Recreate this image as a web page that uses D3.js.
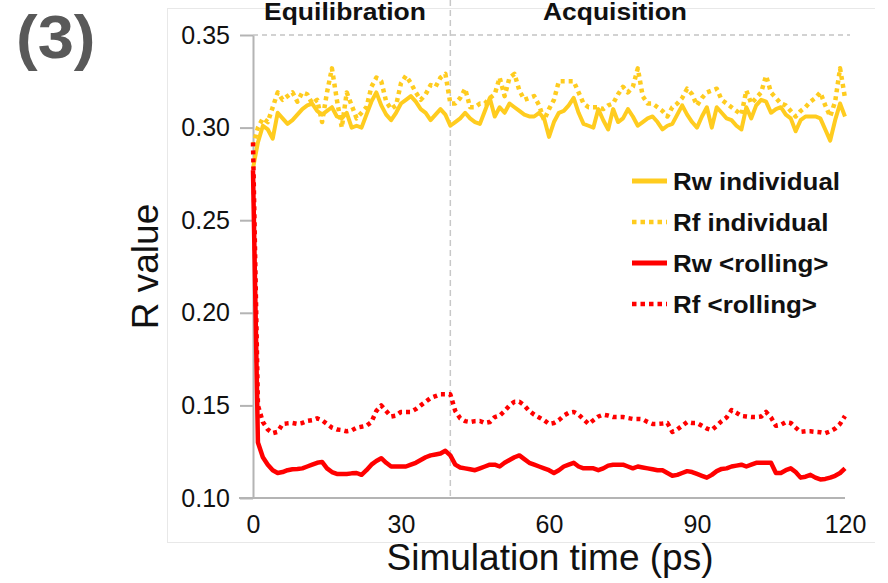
<!DOCTYPE html>
<html>
<head>
<meta charset="utf-8">
<script src="https://cdn.jsdelivr.net/npm/d3@7"></script>
<style>
  html, body { margin: 0; padding: 0; background: #fff; }
  svg { display: block; }
  text { font-family: "Liberation Sans", Arial, sans-serif; }
</style>
</head>
<body>
<script>
// ---------- data ----------
const times = d3.range(0, 121);            // simulation time, ps (1 ps step)
const phaseBoundary = 40;                  // ps
const phaseLabels = ["Equilibration", "Acquisition"];
const yTicks = [0.10, 0.15, 0.20, 0.25, 0.30, 0.35];
const xTicks = [0, 30, 60, 90, 120];
const seriesNames = ["Rw individual", "Rf individual", "Rw <rolling>", "Rf <rolling>"];

const rwIndividual = [
  0.278,0.292,0.301,0.299,0.294,0.308,0.305,0.302,0.304,0.307,
  0.310,0.312,0.313,0.309,0.307,0.309,0.311,0.306,0.305,0.308,
  0.300,0.301,0.300,0.307,0.314,0.319,0.312,0.307,0.304,0.308,
  0.313,0.315,0.317,0.314,0.310,0.308,0.304,0.307,0.310,0.307,
  0.301,0.303,0.305,0.308,0.305,0.303,0.302,0.309,0.316,0.306,
  0.311,0.308,0.313,0.311,0.309,0.307,0.306,0.306,0.308,0.305,
  0.295,0.303,0.308,0.309,0.312,0.316,0.308,0.302,0.301,0.300,
  0.310,0.304,0.299,0.310,0.303,0.305,0.310,0.306,0.301,0.303,
  0.305,0.306,0.303,0.299,0.301,0.302,0.307,0.312,0.307,0.303,
  0.300,0.306,0.311,0.300,0.311,0.308,0.305,0.304,0.301,0.299,
  0.311,0.305,0.312,0.315,0.314,0.308,0.310,0.311,0.307,0.305,
  0.298,0.304,0.306,0.306,0.306,0.305,0.299,0.293,0.304,0.313,
  0.306
];
const rfIndividual = [
  0.290,0.300,0.305,0.303,0.311,0.319,0.315,0.317,0.319,0.314,
  0.319,0.318,0.313,0.315,0.303,0.319,0.332,0.315,0.300,0.319,
  0.312,0.305,0.308,0.311,0.322,0.327,0.325,0.314,0.310,0.312,
  0.324,0.328,0.324,0.319,0.315,0.318,0.323,0.322,0.327,0.329,
  0.313,0.313,0.316,0.321,0.311,0.311,0.313,0.313,0.316,0.318,
  0.327,0.317,0.327,0.329,0.320,0.315,0.316,0.317,0.312,0.304,
  0.310,0.315,0.325,0.325,0.325,0.325,0.319,0.313,0.311,0.311,
  0.311,0.310,0.312,0.313,0.318,0.322,0.319,0.322,0.332,0.317,
  0.313,0.313,0.311,0.309,0.306,0.311,0.313,0.316,0.321,0.318,
  0.312,0.316,0.319,0.320,0.321,0.315,0.313,0.311,0.309,0.307,
  0.320,0.313,0.316,0.319,0.328,0.319,0.316,0.313,0.312,0.309,
  0.306,0.309,0.311,0.314,0.316,0.319,0.312,0.306,0.314,0.332,
  0.316
];
const rwRolling = [
  0.277,0.130,0.122,0.118,0.115,0.1135,0.114,0.115,0.1155,0.1157,
  0.116,0.117,0.118,0.119,0.1195,0.116,0.114,0.113,0.113,0.113,
  0.1133,0.1135,0.1125,0.115,0.118,0.120,0.1215,0.119,0.117,0.117,
  0.117,0.117,0.118,0.119,0.1205,0.122,0.123,0.1235,0.124,0.1255,
  0.123,0.118,0.1165,0.116,0.1155,0.115,0.116,0.117,0.118,0.118,
  0.117,0.119,0.1205,0.122,0.123,0.121,0.119,0.118,0.117,0.116,
  0.115,0.1135,0.115,0.117,0.118,0.119,0.117,0.116,0.116,0.116,
  0.115,0.116,0.1175,0.118,0.118,0.118,0.117,0.116,0.117,0.1165,
  0.116,0.1155,0.115,0.115,0.1135,0.112,0.1125,0.1135,0.1145,0.114,
  0.113,0.112,0.111,0.1125,0.1145,0.1157,0.116,0.117,0.1175,0.118,
  0.117,0.118,0.119,0.119,0.119,0.119,0.1135,0.1135,0.115,0.116,
  0.114,0.111,0.1115,0.1125,0.111,0.110,0.1103,0.111,0.112,0.1135,
  0.116
];
const rfRolling = [
  0.292,0.150,0.141,0.137,0.135,0.1357,0.140,0.1403,0.1405,0.140,
  0.1405,0.1416,0.142,0.143,0.142,0.140,0.138,0.137,0.1367,0.136,
  0.1365,0.138,0.1385,0.139,0.141,0.147,0.150,0.147,0.144,0.1445,
  0.1465,0.1465,0.1465,0.148,0.150,0.152,0.154,0.155,0.156,0.156,
  0.156,0.147,0.143,0.1415,0.141,0.1415,0.1416,0.1405,0.141,0.1437,
  0.1445,0.147,0.150,0.152,0.152,0.150,0.147,0.145,0.1435,0.142,
  0.140,0.1405,0.142,0.1445,0.146,0.1465,0.145,0.1425,0.140,0.142,
  0.144,0.145,0.1445,0.1437,0.1437,0.1437,0.1432,0.1427,0.1427,0.1425,
  0.141,0.140,0.140,0.1402,0.1405,0.1357,0.137,0.139,0.141,0.1405,
  0.1405,0.139,0.1375,0.1367,0.139,0.1415,0.1435,0.1475,0.146,0.1443,
  0.144,0.1437,0.1437,0.144,0.1465,0.1435,0.139,0.1395,0.141,0.1405,
  0.138,0.1357,0.136,0.136,0.1357,0.1355,0.135,0.136,0.1375,0.140,
  0.1443
];

// ---------- layout ----------
const W = 888, H = 583;
const svg = d3.select("body").append("svg").attr("width", W).attr("height", H);

const x = d3.scaleLinear().domain([0, 120]).range([253, 845]);
const y = d3.scaleLinear().domain([0.10, 0.35]).range([498, 35]);

const axisGrey = "#b4b4b4";
const yellow = "#FFCC1F";
const red = "#FF0000";

// faint frame of the embedded panel
svg.append("line").attr("x1", 167).attr("x2", 875).attr("y1", 8.5).attr("y2", 8.5)
  .attr("stroke", "#e8e8e8").attr("stroke-width", 1);
svg.append("line").attr("x1", 167.5).attr("x2", 167.5).attr("y1", 8).attr("y2", 542)
  .attr("stroke", "#e8e8e8").attr("stroke-width", 1);
svg.append("line").attr("x1", 167).attr("x2", 875).attr("y1", 542.5).attr("y2", 542.5)
  .attr("stroke", "#e8e8e8").attr("stroke-width", 1);

// panel label
svg.append("text").attr("transform", "translate(16,58) scale(1.05,1)")
  .style("font-family", "'Liberation Sans', Arial, sans-serif")
  .style("font-weight", "bold").style("font-size", "62px").attr("fill", "#595959")
  .text("(3)");

// top dashed reference line at 0.35
svg.append("line").attr("x1", x(0)).attr("x2", 850)
  .attr("y1", y(0.35)).attr("y2", y(0.35))
  .attr("stroke", "#c4c4c4").attr("stroke-width", 1.5).attr("stroke-dasharray", "5,4");

// phase boundary
svg.append("line").attr("x1", x(phaseBoundary)).attr("x2", x(phaseBoundary))
  .attr("y1", 0).attr("y2", y(0.10))
  .attr("stroke", "#c8c8c8").attr("stroke-width", 1.5).attr("stroke-dasharray", "6,4");

// phase labels
svg.append("text").attr("x", 345).attr("y", 20).attr("text-anchor", "middle")
  .style("font-weight", "bold").style("font-size", "23px").attr("fill", "#111")
  .attr("textLength", 162).attr("lengthAdjust", "spacingAndGlyphs")
  .text(phaseLabels[0]);
svg.append("text").attr("x", 615).attr("y", 20).attr("text-anchor", "middle")
  .style("font-weight", "bold").style("font-size", "23px").attr("fill", "#111")
  .attr("textLength", 144).attr("lengthAdjust", "spacingAndGlyphs")
  .text(phaseLabels[1]);

// y axis
const yAxis = svg.append("g").attr("transform", `translate(${x(0)},0)`)
  .call(d3.axisLeft(y).tickValues(yTicks).tickFormat(d3.format(".2f"))
        .tickSize(13).tickSizeOuter(0).tickPadding(10));
yAxis.select(".domain").attr("stroke", axisGrey).attr("stroke-width", 2);
yAxis.selectAll(".tick line").attr("stroke", axisGrey).attr("stroke-width", 2);
yAxis.selectAll(".tick text").style("font-size", "25px").attr("fill", "#111")
  .style("font-family", "'Liberation Sans', Arial, sans-serif");

// x axis
const xAxis = svg.append("g").attr("transform", `translate(0,${y(0.10)})`)
  .call(d3.axisBottom(x).tickValues(xTicks).tickSize(0).tickSizeOuter(0).tickPadding(17));
xAxis.select(".domain").attr("stroke", axisGrey).attr("stroke-width", 2)
  .attr("d", `M239,0H${x(120)}`);
xAxis.selectAll(".tick text").style("font-size", "25px").attr("fill", "#111")
  .style("font-family", "'Liberation Sans', Arial, sans-serif");

// axis titles
svg.append("text").attr("x", (x(0) + x(120)) / 2 + 1).attr("y", 570).attr("text-anchor", "middle")
  .style("font-size", "37px").attr("fill", "#111").text("Simulation time (ps)");
svg.append("text").attr("transform", `translate(158,${(y(0.10) + y(0.35)) / 2}) rotate(-90)`)
  .attr("text-anchor", "middle").style("font-size", "37px").attr("fill", "#111").text("R value");

// series
const line = d3.line().x((d, i) => x(times[i])).y(d => y(d));
const series = [
  { name: seriesNames[0], values: rwIndividual, color: yellow, width: 4, dash: null },
  { name: seriesNames[1], values: rfIndividual, color: yellow, width: 4.5, dash: "4,4" },
  { name: seriesNames[2], values: rwRolling, color: red, width: 4.5, dash: null },
  { name: seriesNames[3], values: rfRolling, color: red, width: 4.5, dash: "4,4" }
];
const drawOrder = [1, 0, 3, 2];
drawOrder.forEach(k => {
  const s = series[k];
  svg.append("path").datum(s.values).attr("d", line)
    .attr("fill", "none").attr("stroke", s.color).attr("stroke-width", s.width)
    .attr("stroke-linejoin", "round")
    .attr("stroke-dasharray", s.dash);
});

// legend
const legendY = [181, 222, 263, 304];
series.forEach((s, i) => {
  svg.append("line").attr("x1", 632).attr("x2", 667).attr("y1", legendY[i]).attr("y2", legendY[i])
    .attr("stroke", s.color).attr("stroke-width", s.dash ? 4.5 : 5)
    .attr("stroke-dasharray", s.dash ? "4.5,4" : null);
  svg.append("text").attr("transform", `translate(673,${legendY[i]}) scale(1.08,1)`)
    .attr("dy", "0.36em")
    .style("font-weight", "bold").style("font-size", "24px").attr("fill", "#111")
    .text(s.name);
});
</script>
</body>
</html>
